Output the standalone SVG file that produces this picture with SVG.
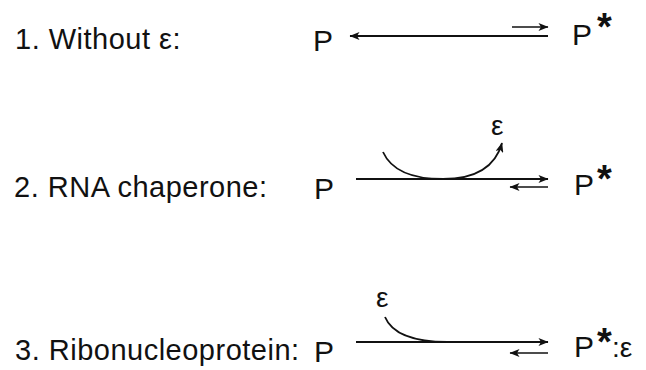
<svg xmlns="http://www.w3.org/2000/svg" width="646" height="370" viewBox="0 0 646 370">
<style>
.lbl{font-family:"Liberation Sans",Arial,sans-serif;font-size:29px;letter-spacing:0.5px;fill:#111}
.sp{font-family:"Liberation Sans",Arial,sans-serif;font-size:30px;fill:#111}
.ast{font-family:"Liberation Sans",Arial,sans-serif;font-size:38px;font-weight:bold;fill:#111}
.eps{font-family:"Liberation Sans",Arial,sans-serif;font-size:28px;fill:#111}
.ln{stroke:#111;stroke-width:1.8;fill:none}
.sh{stroke:#111;stroke-width:1.4;fill:none}
</style>
<defs>
<marker id="ah" viewBox="0 0 10 8" refX="9.5" refY="4" markerWidth="11" markerHeight="8" markerUnits="userSpaceOnUse" orient="auto">
<path d="M0,0 L10,4 L0,8 L2.5,4 Z" fill="#111"/>
</marker>
</defs>
<rect width="646" height="370" fill="#fff"/>
<g id="labels">
<text class="lbl" x="15" y="49">1. Without ε:</text>
<text class="lbl" x="14" y="197">2. RNA chaperone:</text>
<text class="lbl" x="15" y="360">3. Ribonucleoprotein:</text>
</g>
<g id="row1-P"><text class="sp" x="313" y="51">P</text></g>
<g id="row1-Pstar"><text class="sp" x="572" y="45">P</text><text class="ast" x="597" y="40">*</text></g>
<g id="row2-P"><text class="sp" x="314" y="199">P</text></g>
<g id="row2-Pstar"><text class="sp" x="574" y="195">P</text><text class="ast" x="597" y="192">*</text></g>
<g id="row2-eps"><text class="eps" x="491" y="135">ε</text></g>
<g id="row3-P"><text class="sp" x="314" y="362">P</text></g>
<g id="row3-Pstar"><text class="sp" x="574" y="357">P</text><text class="ast" x="597" y="355">*</text><text class="eps" x="612" y="357">:ε</text></g>
<g id="row3-eps"><text class="eps" x="376" y="307">ε</text></g>
<g id="connectors">
<line class="ln" x1="548" y1="36" x2="350" y2="36" marker-end="url(#ah)"/>
<line class="sh" x1="512" y1="27" x2="548" y2="27" marker-end="url(#ah)"/>
<line class="ln" x1="356" y1="179" x2="548" y2="179" marker-end="url(#ah)"/>
<line class="sh" x1="548" y1="187" x2="510" y2="187" marker-end="url(#ah)"/>
<path class="ln" d="M383,152 C392,172 415,179 443,179 C475,179 495,168 502,143" marker-end="url(#ah)"/>
<line class="ln" x1="356" y1="342" x2="548" y2="342" marker-end="url(#ah)"/>
<line class="sh" x1="548" y1="353" x2="510" y2="353" marker-end="url(#ah)"/>
<path class="ln" d="M385,317 C392,334 415,342 447,342"/>
</g>
</svg>
